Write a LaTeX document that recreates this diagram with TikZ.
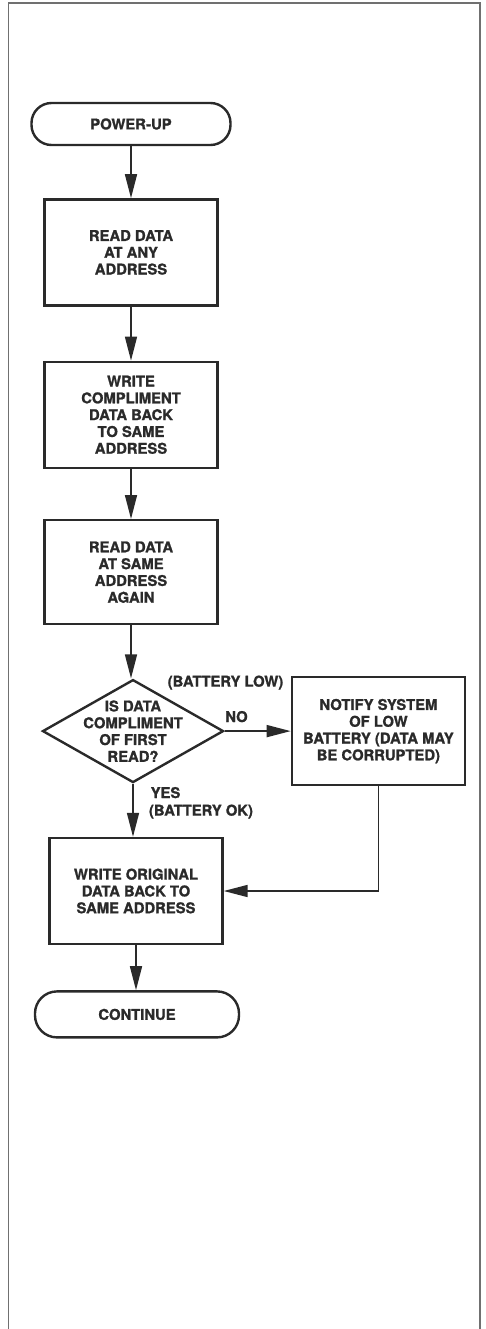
\documentclass[tikz,border=0pt]{standalone}
\usepackage{fontspec}
\setsansfont{TeX Gyre Heros}[BoldFeatures={FakeBold=1.3}]
\usetikzlibrary{arrows.meta, positioning, shapes.geometric, calc}
\definecolor{inkcol}{HTML}{2A2A2A}
\definecolor{framecol}{HTML}{707070}

\begin{document}
\begin{tikzpicture}[
    x=1pt, y=1pt,
    node distance=53pt and 66pt,
    every node/.style={font=\sffamily\bfseries\fontsize{14.8}{16.8}\selectfont, text=inkcol},
    terminal/.style={
        draw=inkcol, line width=2.4pt, rounded corners=20pt,
        minimum width=199pt, minimum height=42pt
    },
    process/.style={
        draw=inkcol, line width=2.4pt, minimum width=173pt, minimum height=106pt,
        align=center, inner sep=2pt
    },
    decision/.style={
        diamond, shape aspect=1.76, draw=inkcol, line width=2.4pt,
        minimum width=181pt, minimum height=103pt, align=center, inner sep=-8pt
    },
    arrow/.style={-{Triangle[length=24pt, width=12pt]}, line width=1.6pt, draw=inkcol},
    flowlabel/.style={inner sep=0pt},
]

\useasboundingbox (0,0) rectangle (485,-1329);

% ===== Page frame =====
\draw[framecol, line width=1.3pt] (8.5,-1329) -- (8.5,-3) -- (480,-3) -- (480,-1329);

% ===== Main column =====
\node[terminal] (power) at (131,-124) {POWER-UP};
\node[process, below=52pt of power] (readany) {READ DATA\\AT ANY\\ADDRESS};
\node[process, below=54pt of readany] (writecomp) {WRITE\\COMPLIMENT\\DATA BACK\\TO SAME\\ADDRESS};
\node[process, below=50pt of writecomp, minimum height=104pt] (readsame) {READ DATA\\AT SAME\\ADDRESS\\AGAIN};
\node[decision, below=of readsame, xshift=2pt] (check) {IS DATA\\COMPLIMENT\\OF FIRST\\READ?};
\node[process, below=of check, xshift=3pt] (writeorig) {WRITE ORIGINAL\\DATA BACK TO\\SAME ADDRESS};
\node[terminal, below=45pt of writeorig, xshift=1pt, minimum width=204pt, minimum height=46pt, rounded corners=22pt] (cont) {CONTINUE};

% ===== Side branch =====
\node[process, right=of check, minimum height=108pt] (notify) {NOTIFY SYSTEM\\OF LOW\\BATTERY (DATA MAY\\BE CORRUPTED)};

% ===== Branch labels =====
\node[flowlabel] (lowlbl) at ($(check)+(92.5,48.5)$) {(BATTERY LOW)};
\node[flowlabel] (nolbl) at ($(check)+(103.5,14.5)$) {NO};
\node[flowlabel] (yeslbl) at ($(check)+(32.5,-61.5)$) {YES};
\node[flowlabel] (oklbl) at ($(check)+(68,-80.5)$) {(BATTERY OK)};

% ===== ARROWS =====
\draw[arrow] (power) -- (readany);
\draw[arrow] (readany) -- (writecomp);
\draw[arrow] (writecomp) -- (readsame);
\draw[arrow] (readsame.south) -- (check.north -| readsame.south);
\draw[arrow] (check.south) -- (writeorig.north -| check.south);
\draw[arrow] (check) -- (notify);
\draw[arrow] (notify.south) |- (writeorig.east);
\draw[arrow] (writeorig.south) -- (cont.north -| writeorig.south);

\end{tikzpicture}
\end{document}
